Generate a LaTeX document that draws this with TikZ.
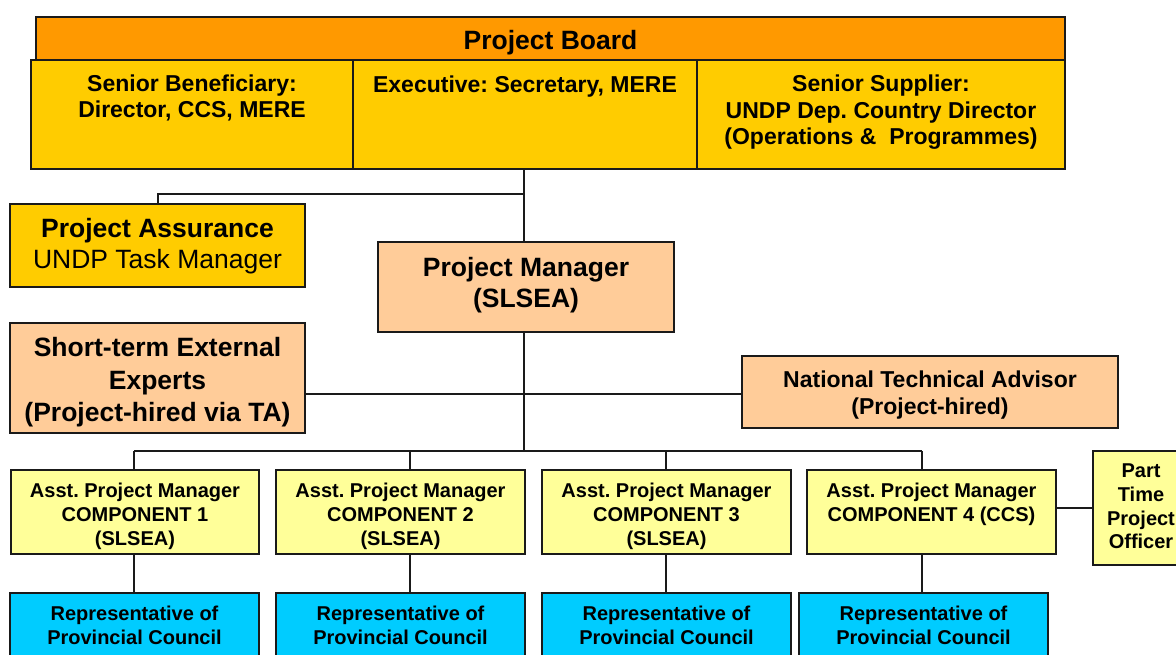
\documentclass[tikz,border=0pt]{standalone}
\usepackage{fontspec}
\setmainfont{Liberation Sans}
\frenchspacing
\definecolor{cOrange}{HTML}{FF9900}
\definecolor{cGold}{HTML}{FFCC00}
\definecolor{cPeach}{HTML}{FFCC99}
\definecolor{cLight}{HTML}{FFFF99}
\definecolor{cCyan}{HTML}{00CCFF}
\definecolor{cLine}{HTML}{1A1A1A}
\tikzset{
  bx/.style={draw=cLine, line width=2.3pt, inner sep=0pt},
  conn/.style={draw=cLine, line width=2pt},
  tx/.style={align=center, inner sep=0pt, text=black,
    execute at begin node=\strut, execute at end node=\strut},
  tBig/.style={tx, font=\fontsize{26.5}{31}\selectfont\bfseries},
  tSte/.style={tx, font=\fontsize{26.5}{32.5}\selectfont\bfseries},
  tMid/.style={tx, font=\fontsize{23}{26.5}\selectfont\bfseries},
  tNta/.style={tx, font=\fontsize{23}{27}\selectfont\bfseries},
  tSmall/.style={tx, font=\fontsize{20}{24}\selectfont\bfseries},
  tPt/.style={tx, font=\fontsize{20}{23.7}\selectfont\bfseries},
}
\begin{document}
\begin{tikzpicture}[x=1pt, y=-1pt]
\clip (0,0) rectangle (1176,655);
\fill[white] (0,0) rectangle (1176,655);

% Project Board
\node[bx, fill=cOrange, minimum width=1029pt, minimum height=43pt] (board) at (550.5,38.5) {};
\node[bx, fill=cGold, minimum width=322pt, minimum height=109pt] (sb) at (192,114.5) {};
\node[bx, fill=cGold, minimum width=344pt, minimum height=109pt] (ex) at (525,114.5) {};
\node[bx, fill=cGold, minimum width=368pt, minimum height=109pt] (ss) at (881,114.5) {};
\node[tBig] (boardT) at (550.5,43.8) {Project Board};
\node[tMid] (sbT) at (192,100.2) {Senior Beneficiary:\\Director, CCS, MERE};
\node[tMid] (exT) at (525,87.2) {Executive: Secretary, MERE};
\node[tMid] (ssT) at (881,113.7) {Senior Supplier:\\UNDP Dep. Country Director\\(Operations \&\ \ Programmes)};

% Assurance and manager
\node[bx, fill=cGold, minimum width=295pt, minimum height=83pt] (pa) at (157.5,245.5) {};
\node[tBig] (paT) at (157.5,248.5) {Project Assurance\\\mdseries UNDP Task Manager};
\node[bx, fill=cPeach, minimum width=296pt, minimum height=90pt] (pm) at (526,287) {};
\node[tBig] (pmT) at (526,287) {Project Manager\\(SLSEA)};

% Experts and advisor
\node[bx, fill=cPeach, minimum width=295pt, minimum height=110pt] (ste) at (157.5,378) {};
\node[tSte] (steT) at (157.5,384.5) {Short-term External\\Experts\\(Project-hired via TA)};
\node[bx, fill=cPeach, minimum width=376pt, minimum height=72pt] (nta) at (930,392) {};
\node[tNta] (ntaT) at (930,396.3) {National Technical Advisor\\(Project-hired)};

% Assistant project managers
\node[bx, fill=cLight, minimum width=248pt, minimum height=84pt] (apm1) at (135,512) {};
\node[bx, fill=cLight, minimum width=249pt, minimum height=84pt] (apm2) at (400.5,512) {};
\node[bx, fill=cLight, minimum width=249pt, minimum height=84pt] (apm3) at (666.5,512) {};
\node[bx, fill=cLight, minimum width=249pt, minimum height=84pt] (apm4) at (931.5,512) {};
\node[tSmall] (apm1T) at (135,518) {Asst. Project Manager\\COMPONENT 1\\(SLSEA)};
\node[tSmall] (apm2T) at (400.5,518) {Asst. Project Manager\\COMPONENT 2\\(SLSEA)};
\node[tSmall] (apm3T) at (666.5,518) {Asst. Project Manager\\COMPONENT 3\\(SLSEA)};
\node[tSmall] (apm4T) at (931.5,506) {Asst. Project Manager\\COMPONENT 4 (CCS)};
\node[bx, fill=cLight, minimum width=96pt, minimum height=114pt] (pt) at (1141,508) {};
\node[tPt] (ptT) at (1141,510) {Part\\Time\\Project\\Officer};

% Representatives
\node[bx, fill=cCyan, minimum width=249pt, minimum height=72pt] (rep1) at (134.5,629) {};
\node[bx, fill=cCyan, minimum width=249pt, minimum height=72pt] (rep2) at (400.5,629) {};
\node[bx, fill=cCyan, minimum width=249pt, minimum height=72pt] (rep3) at (666.5,629) {};
\node[bx, fill=cCyan, minimum width=249pt, minimum height=72pt] (rep4) at (923.5,629) {};
\node[tSmall] (rep1T) at (134.5,629) {Representative of\\Provincial Council};
\node[tSmall] (rep2T) at (400.5,629) {Representative of\\Provincial Council};
\node[tSmall] (rep3T) at (666.5,629) {Representative of\\Provincial Council};
\node[tSmall] (rep4T) at (923.5,629) {Representative of\\Provincial Council};

% Connectors
\coordinate (j1) at (524,194);
\coordinate (j2) at (524,394);
\coordinate (d1) at (134,451);
\coordinate (d2) at (409.5,451);
\coordinate (d3) at (666,451);
\coordinate (d4) at (922,451);
\coordinate (j3) at (1075,508);
\draw[conn] (j1 |- ex.south) -- (j1 |- pm.north);
\draw[conn] (j1) -| (pa.north);
\draw[conn] (j1 |- pm.south) -- (j1 |- d1);
\draw[conn] (ste.east |- j2) -- (nta.west |- j2);
\draw[conn] (d1) -- (d4);
\draw[conn] (d1) -- (d1 |- apm1.north);
\draw[conn] (d2) -- (d2 |- apm2.north);
\draw[conn] (d3) -- (d3 |- apm3.north);
\draw[conn] (d4) -- (d4 |- apm4.north);
\draw[conn] (d1 |- apm1.south) -- (d1 |- rep1.north);
\draw[conn] (d2 |- apm2.south) -- (d2 |- rep2.north);
\draw[conn] (d3 |- apm3.south) -- (d3 |- rep3.north);
\draw[conn] (d4 |- apm4.south) -- (d4 |- rep4.north);
\draw[conn] (apm4.east |- j3) -- (pt.west |- j3);
\end{tikzpicture}
\end{document}
